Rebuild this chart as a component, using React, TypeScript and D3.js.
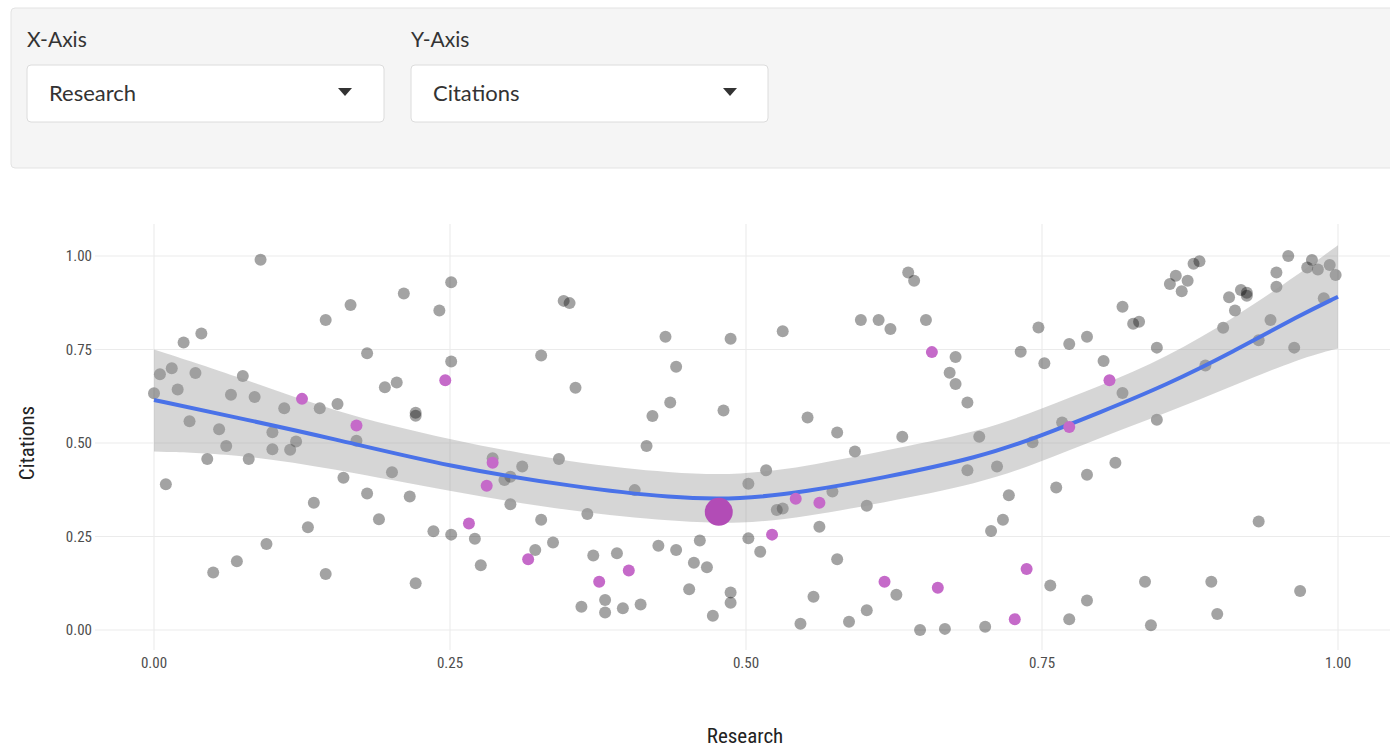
import React from 'react';
import * as d3 from 'd3';

// Grey (unselected) points: Research (x), Citations (y)
const greyX = [0.000,0.005,0.015,0.010,0.020,0.025,0.030,0.035,0.040,0.045,0.050,0.055,0.061,0.065,0.070,0.075,0.080,0.085,0.090,0.095,0.100,0.100,0.110,0.115,0.120,0.130,0.135,0.140,0.145,0.145,0.155,0.160,0.166,0.171,0.180,0.180,0.190,0.195,0.201,0.205,0.211,0.216,0.221,0.221,0.221,0.236,0.241,0.251,0.251,0.251,
0.346,0.351,0.327,0.356,0.286,0.296,0.301,0.311,0.301,0.327,0.342,0.271,0.276,0.322,0.337,0.366,0.406,0.361,0.371,0.381,0.381,0.391,0.396,0.411,0.416,0.421,0.432,0.436,0.441,0.426,0.441,0.452,0.456,0.461,0.467,0.472,0.481,0.487,0.487,0.487,
0.502,0.502,0.512,0.517,0.526,0.531,0.531,0.552,0.546,0.557,0.562,0.573,0.577,0.577,0.587,0.592,0.597,0.602,0.602,0.612,0.622,0.627,0.632,0.637,0.642,0.652,0.677,0.672,0.677,0.687,0.647,0.668,0.687,0.697,0.702,0.712,0.707,0.717,0.722,0.732,0.742,0.747,0.752,0.757,0.762,0.767,0.773,0.773,0.788,0.788,0.788,
0.802,0.812,0.818,0.818,0.827,0.832,0.837,0.842,0.847,0.847,0.858,0.863,0.868,0.873,0.878,0.883,0.888,0.893,0.898,0.903,0.908,0.913,0.918,0.923,0.923,0.933,0.933,0.943,0.948,0.948,0.958,0.963,0.968,0.974,0.978,0.983,0.988,0.993,0.998];
const greyY = [0.633,0.684,0.700,0.390,0.643,0.769,0.558,0.687,0.793,0.457,0.154,0.537,0.492,0.629,0.184,0.679,0.457,0.623,0.990,0.230,0.529,0.483,0.593,0.482,0.504,0.275,0.340,0.593,0.829,0.150,0.604,0.407,0.869,0.506,0.740,0.365,0.296,0.649,0.422,0.662,0.900,0.357,0.581,0.573,0.125,0.264,0.854,0.930,0.718,0.255,
0.880,0.874,0.734,0.648,0.459,0.401,0.410,0.437,0.336,0.295,0.457,0.244,0.173,0.214,0.234,0.310,0.374,0.062,0.199,0.080,0.047,0.205,0.058,0.068,0.492,0.572,0.784,0.608,0.704,0.225,0.214,0.109,0.180,0.239,0.168,0.038,0.587,0.779,0.100,0.073,
0.391,0.245,0.209,0.427,0.321,0.325,0.799,0.568,0.017,0.089,0.276,0.370,0.528,0.189,0.022,0.477,0.829,0.053,0.332,0.829,0.805,0.094,0.517,0.956,0.934,0.829,0.730,0.688,0.658,0.608,0.000,0.003,0.427,0.517,0.009,0.437,0.265,0.295,0.360,0.744,0.502,0.809,0.713,0.119,0.381,0.555,0.765,0.029,0.784,0.415,0.079,
0.719,0.447,0.864,0.634,0.819,0.824,0.129,0.013,0.755,0.562,0.925,0.947,0.906,0.934,0.979,0.986,0.707,0.129,0.043,0.808,0.890,0.854,0.909,0.902,0.894,0.775,0.290,0.829,0.956,0.918,1.000,0.755,0.104,0.969,0.989,0.964,0.887,0.976,0.949];

// Highlighted (purple) points
const purpleX = [0.125,0.171,0.246,0.286,0.281,0.266,0.316,0.376,0.401,0.522,0.542,0.562,0.617,0.657,0.662,0.727,0.737,0.773,0.807];
const purpleY = [0.618,0.547,0.668,0.447,0.386,0.285,0.189,0.129,0.159,0.255,0.351,0.340,0.129,0.743,0.113,0.029,0.163,0.543,0.668];

// Selected point
const selectedX = [0.477];
const selectedY = [0.316];

// Smoother (loess)
const smoothX = [0, 0.067, 0.151, 0.25, 0.354, 0.439, 0.495, 0.551, 0.613, 0.698, 0.748, 0.799, 0.855, 0.912, 0.968, 1.0];
const smoothFit = [0.615, 0.570, 0.512, 0.436, 0.383, 0.352, 0.349, 0.370, 0.405, 0.462, 0.518, 0.582, 0.655, 0.745, 0.842, 0.891];
const smoothHi = [0.750, 0.682, 0.584, 0.508, 0.446, 0.419, 0.414, 0.437, 0.477, 0.530, 0.590, 0.652, 0.728, 0.834, 0.954, 1.029];
const smoothLo = [0.477, 0.472, 0.432, 0.370, 0.316, 0.290, 0.283, 0.303, 0.339, 0.392, 0.448, 0.514, 0.580, 0.654, 0.726, 0.753];

const xTicks = [0, 0.25, 0.5, 0.75, 1.0];
const yTicks = [0, 0.25, 0.5, 0.75, 1.0];
const xTickLabels = ['0.00', '0.25', '0.50', '0.75', '1.00'];
const yTickLabels = ['0.00', '0.25', '0.50', '0.75', '1.00'];

const xVarLabel = 'Research';
const yVarLabel = 'Citations';

const W = 1390;
const H = 751;

export default function App() {
  const x = d3.scaleLinear().domain([0, 1]).range([154, 1338]);
  const y = d3.scaleLinear().domain([0, 1]).range([630, 256]);
  const panel = { left: 95, right: 1397, top: 224, bottom: 650 };

  const idx = d3.range(smoothX.length);
  const area = d3.area<number>()
    .x(i => x(smoothX[i]))
    .y0(i => y(smoothLo[i]))
    .y1(i => y(smoothHi[i]))
    .curve(d3.curveBasis);
  const line = d3.line<number>()
    .x(i => x(smoothX[i]))
    .y(i => y(smoothFit[i]))
    .curve(d3.curveBasis);

  const uiFont = 'Lato, "Open Sans", sans-serif';
  const plotFont = '"Liberation Sans Narrow", "Roboto Condensed", Lato, sans-serif';

  return (
    <div style={{ position: 'fixed', left: 0, top: 0, width: W, height: H, background: '#fff' }}>
      <svg width={W} height={H} style={{ display: 'block' }}>
        {/* control panel */}
        <rect x={11} y={8} width={1400} height={160} rx={4} fill="#f5f5f5" stroke="#e3e3e3" />
        <text x={27} y={47} fontFamily={uiFont} fontSize={21} fill="#333">X-Axis</text>
        <text x={411} y={47} fontFamily={uiFont} fontSize={21} fill="#333">Y-Axis</text>
        <rect x={27} y={65} width={357} height={57} rx={4} fill="#fff" stroke="#dcdcdc" />
        <text x={49} y={101} fontFamily={uiFont} fontSize={22} fill="#333">{xVarLabel}</text>
        <path d="M338,88 L352,88 L345,96 Z" fill="#333" />
        <rect x={411} y={65} width={357} height={57} rx={4} fill="#fff" stroke="#dcdcdc" />
        <text x={433} y={101} fontFamily={uiFont} fontSize={22} fill="#333">{yVarLabel}</text>
        <path d="M723,88 L737,88 L730,96 Z" fill="#333" />

        {/* grid */}
        <g stroke="#ebebeb" strokeWidth={1.1}>
          {yTicks.map(t => (
            <line key={'gy' + t} x1={panel.left} x2={panel.right} y1={y(t)} y2={y(t)} />
          ))}
          {xTicks.map(t => (
            <line key={'gx' + t} x1={x(t)} x2={x(t)} y1={panel.top} y2={panel.bottom} />
          ))}
        </g>

        {/* tick labels */}
        <g fontFamily={plotFont} fontSize={15} fill="#4d4d4d">
          {yTicks.map((t, i) => (
            <text key={'ly' + t} x={92} y={y(t)} dy="0.35em" textAnchor="end">{yTickLabels[i]}</text>
          ))}
          {xTicks.map((t, i) => (
            <text key={'lx' + t} x={x(t)} y={668} textAnchor="middle">{xTickLabels[i]}</text>
          ))}
        </g>

        {/* axis titles */}
        <text x={745} y={743} textAnchor="middle" fontFamily={plotFont} fontSize={21} fill="#222">{xVarLabel}</text>
        <text transform={`translate(34,${y(0.5)}) rotate(-90)`} textAnchor="middle" fontFamily={plotFont} fontSize={21} fill="#222">{yVarLabel}</text>

        {/* grey points */}
        <g fill="#000" fillOpacity={0.36}>
          {greyX.map((v, i) => (
            <circle key={'g' + i} cx={x(v)} cy={y(greyY[i])} r={6} />
          ))}
        </g>

        {/* smoother */}
        <path d={area(idx) || ''} fill="#999" fillOpacity={0.4} />
        <path d={line(idx) || ''} fill="none" stroke="#4a72e8" strokeWidth={4} />

        {/* purple points */}
        <g fill="#c56ac9">
          {purpleX.map((v, i) => (
            <circle key={'p' + i} cx={x(v)} cy={y(purpleY[i])} r={6} />
          ))}
        </g>
        {selectedX.map((v, i) => (
          <circle key={'s' + i} cx={x(v)} cy={y(selectedY[i])} r={14} fill="#b24cb6" />
        ))}
      </svg>
    </div>
  );
}
